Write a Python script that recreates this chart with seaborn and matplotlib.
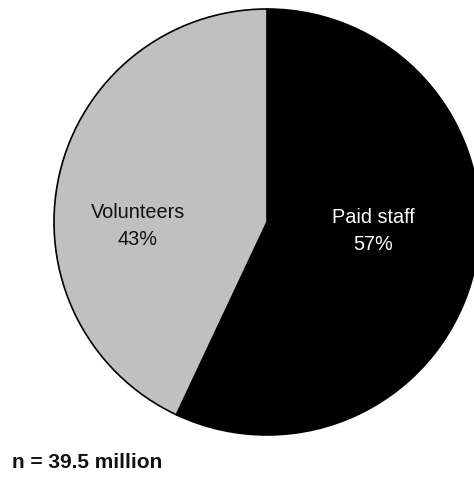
import matplotlib
matplotlib.use("Agg")
import matplotlib.pyplot as plt
import seaborn as sns

categories = ["Paid staff", "Volunteers"]
shares = [57, 43]
colors = ["#000000", "#c0c0c0"]
text_colors = ["white", "#111111"]
note = "n = 39.5 million"

sns.set_theme(style="white")
plt.rcParams["font.family"] = ["Liberation Sans", "DejaVu Sans"]

W, H = 474, 482
fig = plt.figure(figsize=(W / 100, H / 100), dpi=100)
ax = fig.add_axes([0, 0, 1, 1])

cx, cy, r = 267, H - 222, 213
wedges, _ = ax.pie(shares, colors=colors, startangle=90, counterclock=False,
                   center=(cx, cy), radius=r,
                   wedgeprops=dict(edgecolor="black", linewidth=1.2),
                   frame=True)
ax.set_xlim(0, W)
ax.set_ylim(0, H)
ax.set_aspect("equal")
ax.axis("off")

label_pos = [(373, H - 231), (138, H - 226)]
for cat, val, (x, y), tc in zip(categories, shares, label_pos, text_colors):
    ax.text(x, y, f"{cat}\n{val}%", ha="center", va="center", color=tc,
            fontsize=14.3, linespacing=1.5)

ax.text(12, H - 462, note, ha="left", va="center", fontsize=15,
        fontweight="bold", color="#111111")

fig.savefig("out.png", dpi=100)
